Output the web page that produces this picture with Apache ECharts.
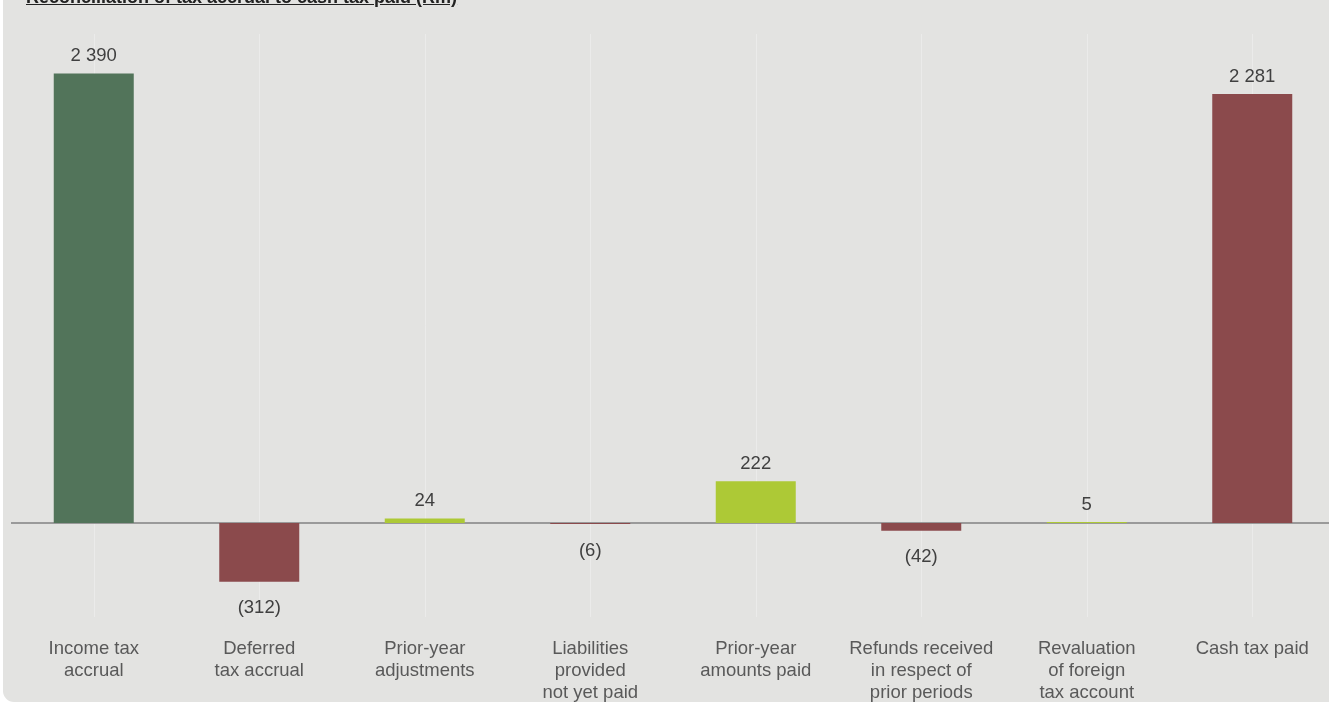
<!DOCTYPE html>
<html>
<head>
<meta charset="utf-8">
<script src="https://cdn.jsdelivr.net/npm/echarts@6/dist/echarts.min.js"></script>
<style>
  html, body { margin: 0; padding: 0; background: #ffffff; overflow: hidden; width: 1329px; height: 704px; }
  .panel { position: absolute; left: 3px; top: -20px; width: 1360px; height: 722px; background: #e3e3e1; border-bottom-left-radius: 11px; }
  .title { position: absolute; left: 26px; top: -12px; font-family: "Liberation Sans", Arial, sans-serif; font-weight: bold; font-size: 18px; line-height: 18px; color: #222; text-decoration: underline; white-space: nowrap; }
  #chart { position: absolute; left: 0; top: 0; width: 1335px; height: 704px; }
</style>
</head>
<body>
<div class="panel"></div>
<div id="chart"></div>
<div class="title">Reconciliation of tax accrual to cash tax paid (Rm)</div>
<script>
// categories and values (Rm)
var categories = [
    'Income tax\naccrual',
    'Deferred\ntax accrual',
    'Prior-year\nadjustments',
    'Liabilities\nprovided\nnot yet paid',
    'Prior-year\namounts paid',
    'Refunds received\nin respect of\nprior periods',
    'Revaluation\nof foreign\ntax account',
    'Cash tax paid'
];
var values = [2390, -312, 24, -6, 222, -42, 5, 2281];
var barColors = ['#52745a', '#8b4a4c', '#adc936', '#8b4a4c', '#adc936', '#8b4a4c', '#adc936', '#8b4a4c'];

function fmt(v) {
    var s = String(Math.abs(v)).replace(/\B(?=(\d{3})+(?!\d))/g, ' ');
    return v < 0 ? '(' + s + ')' : s;
}

var myChart = echarts.init(document.getElementById('chart'));

var data = [];
for (var i = 0; i < values.length; i++) {
    data.push({
        value: values[i],
        itemStyle: { color: barColors[i] },
        label: { position: values[i] < 0 ? 'bottom' : 'top', distance: values[i] < 0 ? 17 : 8 }
    });
}

var gridLines = categories.map(function (c) {
    return { xAxis: c, lineStyle: { color: '#ebebea', width: 1, type: 'solid' } };
});
gridLines.push({ yAxis: 0, lineStyle: { color: '#9a9a9a', width: 2, type: 'solid' } });

var option = {
    backgroundColor: 'transparent',
    animation: false,
    textStyle: { fontFamily: '"Liberation Sans", Arial, sans-serif' },
    grid: { left: 11, right: 0, top: 34, height: 586 },
    xAxis: {
        type: 'category',
        data: categories,
        axisLine: { show: false, onZero: false },
        axisTick: { show: false },
        splitLine: { show: false },
        axisLabel: {
            interval: 0,
            margin: 21,
            color: '#595959',
            fontSize: 18.5,
            lineHeight: 22,
            fontFamily: '"Liberation Sans", Arial, sans-serif'
        }
    },
    yAxis: {
        type: 'value',
        min: -500,
        max: 2600,
        show: false
    },
    series: [{
        type: 'bar',
        data: data,
        barWidth: 80,
        z: 2,
        label: {
            show: true,
            color: '#404040',
            fontSize: 18.5,
            fontFamily: '"Liberation Sans", Arial, sans-serif',
            formatter: function (p) { return fmt(p.value); }
        },
        markLine: {
            silent: true,
            symbol: 'none',
            z: 1,
            label: { show: false },
            emphasis: { disabled: true },
            data: gridLines
        }
    }]
};

myChart.setOption(option);
</script>
</body>
</html>
